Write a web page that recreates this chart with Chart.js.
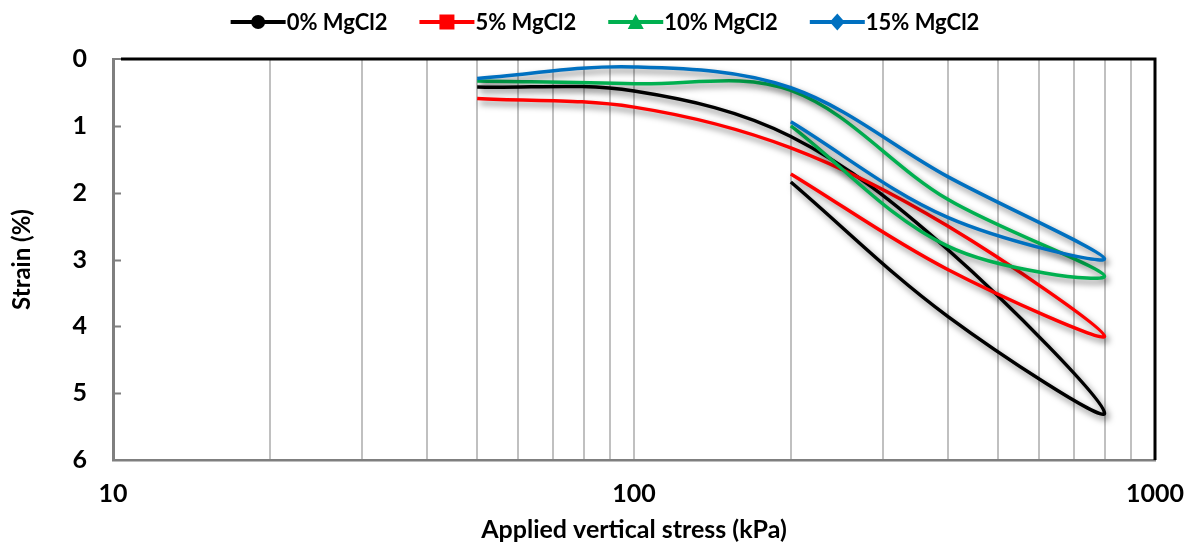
<!DOCTYPE html>
<html>
<head>
<meta charset="utf-8">
<script src="https://cdn.jsdelivr.net/npm/chart.js@4.4.1/dist/chart.umd.min.js"></script>
<style>
  html, body { margin: 0; padding: 0; background: #ffffff; }
  #wrap { width: 1187px; height: 545px; }
</style>
</head>
<body>
<div id="wrap"><canvas id="c" width="1187" height="545"></canvas></div>
<script>
// Oedometer load/unload path: 50 → 800 kPa, then back to 200 kPa
const stressKPa = [50, 100, 200, 400, 800, 400, 200];

// Strain (%) for each MgCl2 content
const strain0  = [0.42, 0.48, 1.16, 2.85, 5.30, 3.85, 1.84];
const strain5  = [0.59, 0.72, 1.33, 2.50, 4.15, 3.15, 1.72];
const strain10 = [0.33, 0.37, 0.47, 2.10, 3.25, 2.80, 1.00];
const strain15 = [0.29, 0.12, 0.43, 1.76, 2.99, 2.37, 0.94];

const seriesNames  = ['0% MgCl2', '5% MgCl2', '10% MgCl2', '15% MgCl2'];
const seriesColors = ['#000000', '#ff0000', '#00b050', '#0070c0'];
const seriesMarkers = ['circle', 'rect', 'triangle', 'rectRot'];

const xTickValues = [10, 20, 30, 40, 50, 60, 70, 80, 90, 100,
                     200, 300, 400, 500, 600, 700, 800, 900, 1000];
const xLabelled = [10, 100, 1000];

const FONT = 'Lato, "Open Sans", sans-serif';

function toPoints(ys) {
  return stressKPa.map((x, i) => ({ x: x, y: ys[i] }));
}

const allStrains = [strain0, strain5, strain10, strain15];

const datasets = allStrains.map((ys, i) => ({
  label: seriesNames[i],
  data: toPoints(ys),
  borderColor: seriesColors[i],
  backgroundColor: seriesColors[i],
  borderWidth: 3.5,
  pointRadius: 0,
  pointHoverRadius: 0,
  tension: 0.35,
  fill: false,
  order: 4 - i
}));

// soft grey drop shadow under each curve
const lineShadow = {
  id: 'lineShadow',
  beforeDatasetDraw(chart) {
    const ctx = chart.ctx;
    ctx.save();
    ctx.shadowColor = 'rgba(0,0,0,0.5)';
    ctx.shadowBlur = 6;
    ctx.shadowOffsetX = 3;
    ctx.shadowOffsetY = 4;
  },
  afterDatasetDraw(chart) {
    chart.ctx.restore();
  }
};

// plot frame: black top/right edges and inward tick marks on the strain axis
const plotFrame = {
  id: 'plotFrame',
  beforeDatasetsDraw(chart) {
    const { ctx, chartArea: a, scales } = chart;
    ctx.save();
    ctx.strokeStyle = '#000000';
    ctx.lineWidth = 3;
    ctx.beginPath();
    ctx.moveTo(a.left + 8, a.top);
    ctx.lineTo(a.right, a.top);
    ctx.lineTo(a.right, a.bottom);
    ctx.stroke();
    ctx.strokeStyle = '#7f7f7f';
    ctx.lineWidth = 2;
    ctx.beginPath();
    ctx.moveTo(a.left, a.top);
    ctx.lineTo(a.left + 8, a.top);
    for (let v = 1; v <= 5; v++) {
      const y = Math.round(scales.y.getPixelForValue(v)) + 0.5;
      ctx.moveTo(a.left, y);
      ctx.lineTo(a.left + 8, y);
    }
    ctx.stroke();
    ctx.restore();
  }
};

// legend row: line segment with marker, then series name
function drawMarker(ctx, kind, cx, cy, color) {
  ctx.fillStyle = color;
  ctx.beginPath();
  if (kind === 'circle') {
    ctx.arc(cx, cy, 7, 0, Math.PI * 2);
  } else if (kind === 'rect') {
    ctx.rect(cx - 7.5, cy - 7.5, 15, 15);
  } else if (kind === 'triangle') {
    ctx.moveTo(cx, cy - 8);
    ctx.lineTo(cx + 8, cy + 7);
    ctx.lineTo(cx - 8, cy + 7);
    ctx.closePath();
  } else {
    ctx.moveTo(cx, cy - 8.5);
    ctx.lineTo(cx + 7.5, cy);
    ctx.lineTo(cx, cy + 8.5);
    ctx.lineTo(cx - 7.5, cy);
    ctx.closePath();
  }
  ctx.fill();
}

const seriesKey = {
  id: 'seriesKey',
  afterDraw(chart) {
    const ctx = chart.ctx;
    const segW = 55, textGap = 1, itemGap = 32, cy = 22, centerX = 605;
    ctx.save();
    ctx.font = 'bold 22px ' + FONT;
    ctx.textBaseline = 'middle';
    ctx.textAlign = 'left';
    const items = chart.data.datasets.map((ds, i) => ({
      ds, i, w: segW + textGap + ctx.measureText(ds.label).width
    }));
    const total = items.reduce((s, it) => s + it.w, 0) + itemGap * (items.length - 1);
    let x = centerX - total / 2;
    items.forEach(it => {
      const color = it.ds.borderColor;
      ctx.strokeStyle = color;
      ctx.lineWidth = 4;
      ctx.beginPath();
      ctx.moveTo(x, cy);
      ctx.lineTo(x + segW, cy);
      ctx.stroke();
      drawMarker(ctx, seriesMarkers[it.i], x + segW / 2, cy, color);
      ctx.fillStyle = '#000000';
      ctx.fillText(it.ds.label, x + segW + textGap, cy + 1);
      x += it.w + itemGap;
    });
    ctx.restore();
  }
};

new Chart(document.getElementById('c'), {
  type: 'line',
  data: { datasets },
  plugins: [lineShadow, plotFrame, seriesKey],
  options: {
    responsive: false,
    animation: false,
    devicePixelRatio: 1,
    layout: { padding: { top: 59, right: 32, left: 0, bottom: 0 } },
    plugins: {
      legend: { display: false },
      tooltip: { enabled: false }
    },
    scales: {
      x: {
        type: 'logarithmic',
        position: 'bottom',
        min: 10,
        max: 1000,
        afterBuildTicks(scale) {
          scale.ticks = xTickValues.map(v => ({ value: v }));
        },
        afterFit(scale) {
          scale.height = 85;
          scale.paddingLeft = 0;
          scale.paddingRight = 0;
        },
        ticks: {
          autoSkip: false,
          maxRotation: 0,
          padding: 19,
          color: '#000000',
          font: { family: FONT, size: 25, weight: 'bold' },
          callback(value) {
            return xLabelled.includes(value) ? String(value) : '';
          }
        },
        grid: {
          display: true,
          drawOnChartArea: true,
          drawTicks: false,
          tickLength: 0,
          color: '#c0c0c0',
          lineWidth: 2
        },
        border: { display: true, color: '#7f7f7f', width: 2.5 },
        title: {
          display: true,
          text: 'Applied vertical stress (kPa)',
          color: '#000000',
          font: { family: FONT, size: 25, weight: 'bold' },
          padding: { top: 0, bottom: 0 }
        }
      },
      y: {
        type: 'linear',
        reverse: true,
        min: 0,
        max: 6,
        afterFit(scale) { scale.width = 113; },
        ticks: {
          stepSize: 1,
          padding: 26,
          color: '#000000',
          font: { family: FONT, size: 25, weight: 'bold' }
        },
        grid: { display: false, drawTicks: false, tickLength: 0 },
        border: { display: true, color: '#7f7f7f', width: 3 },
        title: {
          display: true,
          text: 'Strain (%)',
          color: '#000000',
          font: { family: FONT, size: 24, weight: 'bold' },
          padding: { top: 8, bottom: 0 }
        }
      }
    }
  }
});
</script>
</body>
</html>
